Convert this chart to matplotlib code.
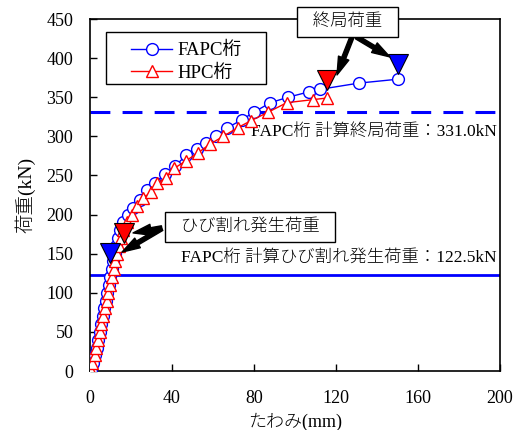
import matplotlib
matplotlib.use('Agg')
import matplotlib.pyplot as plt
from matplotlib.patches import Rectangle

plt.rcParams['font.family'] = ['Liberation Serif', 'Noto Sans CJK JP']

# FAPC girder: deflection (mm) vs load (kN)
fapc_defl = [0.5, 1.5, 2.5, 3.3, 4.0, 4.8, 5.5, 6.2, 7.0, 7.7, 8.4, 9.1, 9.8, 10.5,
             11.3, 12.0, 12.8, 13.6, 14.6, 16.0, 18.5, 21.0, 24.4, 28.0, 31.7, 36.6,
             41.5, 47.0, 52.0, 56.6, 61.5, 67.0, 74.0, 80.0, 88.0, 96.6, 107.0, 112.0,
             131.0, 150.0]
fapc_load = [0, 10, 20, 30, 40, 50, 60, 70, 80, 90, 100, 110, 120, 130,
             140, 150, 160, 170, 180, 190, 199, 208, 219, 231, 240, 252,
             262, 276, 284, 292, 300, 311, 321, 331, 343, 350, 357, 360,
             368, 373]

# HPC girder
hpc_defl = [0.3, 1.2, 2.2, 3.0, 3.9, 4.8, 5.6, 6.5, 7.4, 8.2, 9.0, 9.8, 10.7, 11.5,
            12.3, 13.1, 14.0, 14.9, 16.0, 18.0, 20.5, 23.0, 26.0, 29.8, 32.7, 37.0,
            41.0, 47.0, 52.7, 58.5, 65.0, 72.0, 78.5, 87.0, 96.0, 109.0, 115.6]
hpc_load = [0, 10, 20, 30, 40, 50, 60, 70, 80, 90, 100, 110, 120, 130,
            140, 150, 160, 170, 180, 190, 199, 211, 221, 229, 240, 247,
            259, 269, 279, 290, 300, 311, 320, 331, 343, 347, 349]

# cracking / ultimate markers (x, y)
crack_fapc = (10.0, 151)
crack_hpc = (16.5, 176)
ult_fapc = (150, 393)
ult_hpc = (115.6, 372)

calc_ult = 331.0
calc_crack = 122.5

fig = plt.figure(figsize=(5.19, 4.30), dpi=100)
ax = fig.add_axes([0.1734, 0.1372, 0.79, 0.8186])

ax.plot(fapc_defl, fapc_load, color='#0000FF', lw=1, marker='o', ms=8.5,
        mfc='white', mec='#0000FF', mew=1, label='FAPC桁', zorder=3)
ax.plot(hpc_defl, hpc_load, color='#FF0000', lw=1, marker='^', ms=9,
        mfc='white', mec='#FF0000', mew=1, label='HPC桁', zorder=4)

ax.axhline(calc_ult, color='#0000FF', lw=2.2, dashes=(6.5, 4), zorder=2)
ax.axhline(calc_crack, color='#0000FF', lw=2, zorder=2)

for pt, c in [(crack_fapc, '#0000FF'), (crack_hpc, '#FF0000'),
              (ult_fapc, '#0000FF'), (ult_hpc, '#FF0000')]:
    ax.plot(pt[0], pt[1], marker='v', ms=14, color=c, mec='black', mew=0.8,
            ls='none', zorder=6)

ax.text(198.5, 305, 'FAPC桁 計算終局荷重：331.0kN', ha='right', va='center',
        fontsize=12.5, fontweight='light')
ax.text(198.5, 144, 'FAPC桁 計算ひび割れ発生荷重：122.5kN', ha='right', va='center',
        fontsize=12.5, fontweight='light')

arrow = dict(arrowstyle='simple,head_length=1.3,head_width=0.8,tail_width=0.3',
             color='black', shrinkA=0, shrinkB=0)
bbox = dict(boxstyle='square,pad=0.4', fc='white', ec='black', lw=1)

ax.annotate('', xy=(120.5, 378.5), xytext=(127.8, 427),
            arrowprops=arrow, zorder=7, annotation_clip=False)
ax.annotate('', xy=(146.3, 401.5), xytext=(130, 427),
            arrowprops=arrow, zorder=7, annotation_clip=False)
ax.text(125.4, 446, '  終局荷重  ', ha='center', va='center', fontsize=12.5,
        fontweight='light', bbox=bbox, zorder=8, clip_on=False)

ax.annotate('', xy=(21, 176.5), xytext=(35, 183),
            arrowprops=arrow, zorder=7)
ax.annotate('', xy=(15.6, 152), xytext=(35, 182),
            arrowprops=arrow, zorder=7)
ax.text(78, 184, '  ひび割れ発生荷重  ', ha='center', va='center', fontsize=12.5,
        fontweight='light', bbox=bbox, zorder=8)

ax.set_xlim(0, 200)
ax.set_ylim(0, 450)
ax.set_xticks([0, 40, 80, 120, 160, 200])
ax.set_yticks(range(0, 451, 50))
ax.tick_params(direction='in', length=5, width=1, labelsize=13, top=False, right=False)
ax.tick_params(axis='x', pad=14)
ax.tick_params(axis='y', pad=12)
for s in ax.spines.values():
    s.set_linewidth(1.2)

ax.set_xlabel('たわみ(mm)', fontsize=13, labelpad=4, fontweight='light')
ax.set_ylabel('荷重(kN)', fontsize=14, labelpad=8, fontweight='light')

# legend frame drawn by hand (wide side padding as in the original)
ax.add_patch(Rectangle((0.039, 0.815), 0.39, 0.148, transform=ax.transAxes,
                       fc='white', ec='black', lw=1, zorder=8))
leg = ax.legend(loc='upper left', bbox_to_anchor=(0.1, 0.935), borderaxespad=0,
                fontsize=13.5, frameon=False, handlelength=2.2, borderpad=0,
                labelspacing=0.3, handletextpad=0.3)
leg.set_zorder(9)

fig.savefig('out.png', dpi=100)
